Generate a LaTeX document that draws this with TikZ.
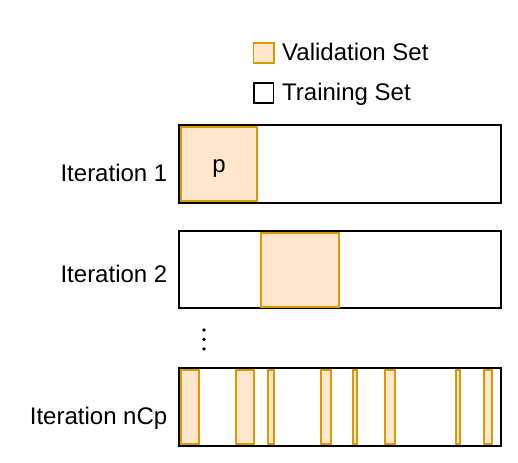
\documentclass[tikz,border=0pt]{standalone}
\usepackage{fontspec}
\setmainfont{Liberation Sans}
\begin{document}
\begin{tikzpicture}[x=1pt,y=-1pt,
  outerbox/.style={draw=black,line width=2pt,fill=white},
  valbox/.style={draw=valstroke,fill=valfill,line width=1.7pt},
  trainbox/.style={draw=black,line width=1.7pt,fill=white},
  lbl/.style={inner sep=0pt,font=\fontsize{24}{28}\selectfont},
  dot/.style={circle,fill=black,inner sep=0pt,minimum size=3.6pt}]
\definecolor{valstroke}{HTML}{D79B00}
\definecolor{valfill}{HTML}{FFE6CC}
\useasboundingbox (0,0) rectangle (518,462);
% legend
\draw[valbox] (253.5,43) rectangle (274,63.3);
\node[lbl,anchor=base west] (lv) at (282,60.5) {Validation Set};
\draw[trainbox] (254,83.3) rectangle (273.5,102.7);
\node[lbl,anchor=base west] (lt) at (282,101) {Training Set};
% iteration 1
\draw[outerbox] (178.7,125) rectangle (500.5,202.7);
\draw[valbox] (180.7,126.7) rectangle (257.3,201);
\node[lbl,anchor=base] (p) at (219,172.5) {p};
\node[lbl,anchor=base east] (l1) at (167.5,182) {Iteration 1};
% iteration 2
\draw[outerbox] (178.7,231) rectangle (500.5,308.3);
\draw[valbox] (261,232.7) rectangle (339,306.7);
\node[lbl,anchor=base east] (l2) at (167.5,282) {Iteration 2};
% dots
\node[dot] (d1) at (204,330) {};
\node[dot] (d2) at (204,339.5) {};
\node[dot] (d3) at (204,349) {};
% iteration nCp
\draw[outerbox] (178.7,367.7) rectangle (500.5,445.7);
\foreach \a/\b in {180.7/199,236/254,267.7/274,321/331,353/357,385/395,456/460,484/492.3}
  \draw[valbox] (\a,370) rectangle (\b,443.7);
\node[lbl,anchor=base east] (l3) at (167.5,424.5) {Iteration nCp};
\end{tikzpicture}
\end{document}
